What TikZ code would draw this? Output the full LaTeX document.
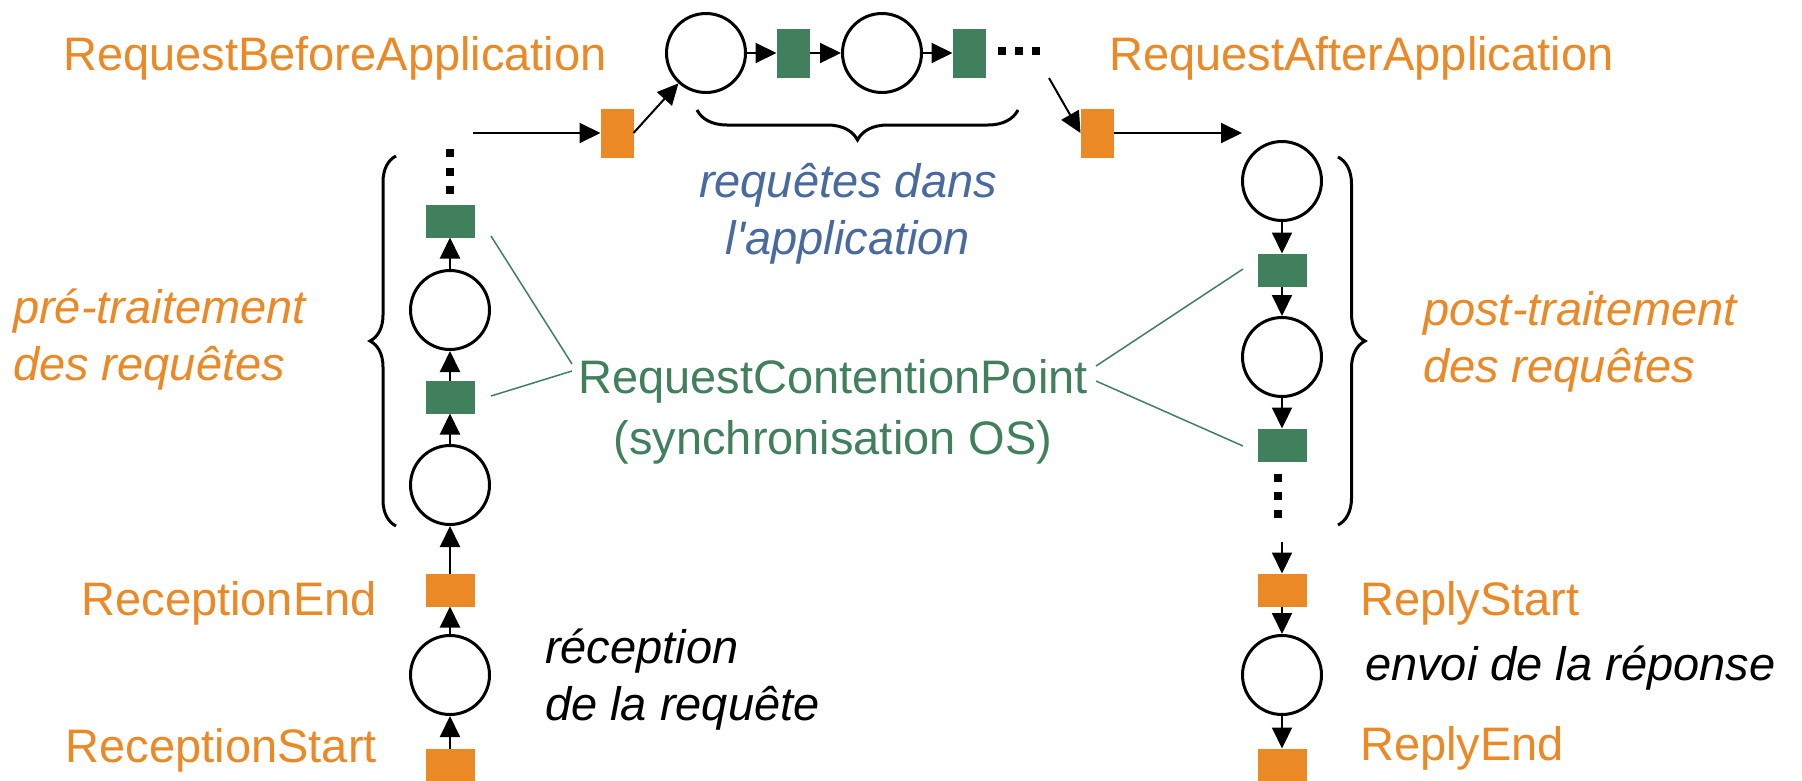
\documentclass[tikz,border=0pt]{standalone}
\usepackage{fontspec}
\setmainfont{Liberation Sans}[Ligatures=TeXOff]
\usetikzlibrary{arrows.meta,decorations.pathreplacing}
\definecolor{orng}{RGB}{235,137,38}
\definecolor{grn}{RGB}{65,128,92}
\definecolor{blu}{RGB}{72,106,158}
\begin{document}
\begin{tikzpicture}[x=1pt,y=-1pt,
  place/.style={circle,draw,line width=3pt,minimum size=79pt,inner sep=0pt},
  vbox/.style={minimum width=49pt,minimum height=33pt,inner sep=0pt,outer sep=0pt},
  hbox/.style={minimum width=33pt,minimum height=49pt,inner sep=0pt,outer sep=0pt},
  og/.style={fill=orng},
  gg/.style={fill=grn},
  dotsq/.style={fill=black,minimum size=8pt,inner sep=0pt,outer sep=0pt},
  arr/.style={line width=2pt,-{Triangle[length=21pt,width=20pt]}},
  lnk/.style={grn,line width=1.5pt},
  br/.style={decorate,decoration={brace,amplitude=#1},line width=3pt},
  lbl/.style={font=\fontsize{47}{57}\selectfont,inner sep=0pt},
  ilbl/.style={font=\fontsize{47}{57}\selectfont\itshape,inner sep=0pt},
]
\useasboundingbox (0,0) rectangle (1802,780);
\fill[white] (0,0) rectangle (1802,780);

% left column
\node[vbox,og] (lS) at (450,765) {};
\node[place] (lc1) at (450,675) {};
\node[vbox,og] (lE) at (450,590) {};
\node[place] (lc2) at (450,485) {};
\node[vbox,gg] (lg1) at (450,397) {};
\node[place] (lc3) at (450,310) {};
\node[vbox,gg] (lg2) at (450,221) {};
\node[dotsq] (ld1) at (450,190) {};
\node[dotsq] (ld2) at (450,172) {};
\node[dotsq] (ld3) at (450,153) {};
\draw[arr] (lS) -- (lc1);
\draw[arr] (lc1) -- (lE);
\draw[arr] (lE) -- (lc2);
\draw[arr] (lc2) -- (lg1);
\draw[arr] (lg1) -- (lc3);
\draw[arr] (lc3) -- (lg2);

% top row
\coordinate (inB) at (473,133);
\node[hbox,og] (oB) at (617,133) {};
\node[place] (tc1) at (706,53) {};
\node[hbox,gg] (tg1) at (793,53) {};
\node[place] (tc2) at (882,53) {};
\node[hbox,gg] (tg2) at (969,53) {};
\node[dotsq] (td1) at (1002,51) {};
\node[dotsq] (td2) at (1019,51) {};
\node[dotsq] (td3) at (1036,51) {};
\coordinate (fromD) at (1049,78);
\node[hbox,og] (oA) at (1097,133) {};
\coordinate (outA) at (1242,133);
\draw[arr] (inB) -- (oB);
\draw[arr] (oB.east) -- (tc1);
\draw[arr] (tc1) -- (tg1);
\draw[arr] (tg1) -- (tc2);
\draw[arr] (tc2) -- (tg2);
\draw[arr] (fromD) -- (oA.west);
\draw[arr] (oA) -- (outA);

% right column
\node[place] (rc1) at (1282,181) {};
\node[vbox,gg] (rg1) at (1282,270) {};
\node[place] (rc2) at (1282,357) {};
\node[vbox,gg] (rg2) at (1282,445) {};
\node[dotsq] (rd1) at (1278,478) {};
\node[dotsq] (rd2) at (1278,496) {};
\node[dotsq] (rd3) at (1278,514) {};
\coordinate (rdEnd) at (1282,542);
\node[vbox,og] (rS) at (1282,590) {};
\node[place] (rc3) at (1282,675) {};
\node[vbox,og] (rE) at (1282,765) {};
\draw[arr] (rc1) -- (rg1);
\draw[arr] (rg1) -- (rc2);
\draw[arr] (rc2) -- (rg2);
\draw[arr] (rdEnd) -- (rS);
\draw[arr] (rS) -- (rc3);
\draw[arr] (rc3) -- (rE);

% braces
\draw[br=26] (396,526) -- (396,156);
\draw[br=27] (1338,157) -- (1338,525);
\draw[br=30] (1018,110) -- (697,110);

% labels
\node[lbl,text=orng,anchor=base west] (tRBA) at (63,70) {RequestBeforeApplication};
\node[lbl,text=orng,anchor=base west] (tRAA) at (1109,70) {RequestAfterApplication};
\node[ilbl,text=blu,align=center,anchor=base] (tApp) at (848,254) {requêtes dans\\l\textquotesingle application};
\node[ilbl,text=orng,align=left,anchor=base west] (tPre) at (13,380) {pré-traitement\\des requêtes};
\node[ilbl,text=orng,align=left,anchor=base west] (tPost) at (1423,382) {post-traitement\\des requêtes};
\node[lbl,text=grn,align=center,anchor=base] (tRCP) at (833,454) {RequestContentionPoint\\[4pt](synchronisation OS)};
\node[lbl,text=orng,anchor=base east] (tRE) at (377,615) {ReceptionEnd};
\node[lbl,text=orng,anchor=base east] (tRS) at (377,762) {ReceptionStart};
\node[ilbl,text=black,align=left,anchor=base west] (tRec) at (545,720) {réception\\de la requête};
\node[lbl,text=orng,anchor=base west] (tYS) at (1360,615) {ReplyStart};
\node[ilbl,text=black,anchor=base west] (tEnv) at (1365,680) {envoi de la réponse};
\node[lbl,text=orng,anchor=base west] (tYE) at (1360,760) {ReplyEnd};

% contention point links
\coordinate (gl1) at (491,236);
\coordinate (gl2) at (491,396);
\coordinate (tl1) at (572,364);
\coordinate (tl2) at (572,371);
\coordinate (tr1) at (1096,366);
\coordinate (tr2) at (1096,381);
\coordinate (gr1) at (1243,269);
\coordinate (gr2) at (1243,446);
\draw[lnk] (gl1) -- (tl1);
\draw[lnk] (gl2) -- (tl2);
\draw[lnk] (tr1) -- (gr1);
\draw[lnk] (tr2) -- (gr2);
\end{tikzpicture}
\end{document}
